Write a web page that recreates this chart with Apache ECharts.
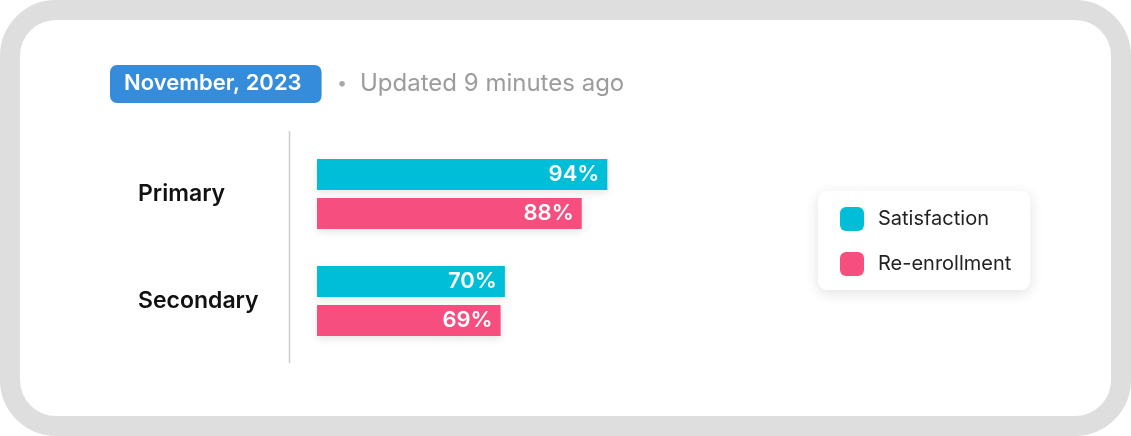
<!DOCTYPE html>
<html>
<head>
<meta charset="utf-8">
<script src="https://cdn.jsdelivr.net/npm/echarts@6/dist/echarts.min.js"></script>
<style>
  html, body { margin: 0; padding: 0; background: #ffffff; }
  #frame {
    position: absolute; left: 0; top: 0; width: 1131px; height: 436px;
    box-sizing: border-box; border: 20px solid #dedede; border-radius: 56px;
    background: #ffffff;
  }
  #chart { position: absolute; left: 0; top: 0; width: 1131px; height: 436px; }
</style>
</head>
<body>
<div id="frame"></div>
<div id="chart"></div>
<script>
const categories = ['Primary', 'Secondary'];
const seriesNames = ['Satisfaction', 'Re-enrollment'];
const satisfaction = [94, 70];
const reenrollment = [88, 69];
const headerDate = 'November, 2023';
const headerUpdated = 'Updated 9 minutes ago';

const FONT = 'Inter, "Noto Sans", sans-serif';
const colors = ['#00BED8', '#F64F7F'];

const chart = echarts.init(document.getElementById('chart'), null, { renderer: 'canvas' });

const barLabel = {
  show: true,
  position: 'insideRight',
  distance: 8,
  formatter: '{c}%',
  color: '#ffffff',
  fontFamily: FONT,
  fontWeight: 600,
  fontSize: 22
};

chart.setOption({
  animation: false,
  textStyle: { fontFamily: FONT },
  title: [
    {
      text: headerDate,
      left: 110, top: 65,
      backgroundColor: '#358CDB',
      borderRadius: 7,
      padding: [6, 20, 7, 14],
      textStyle: { color: '#ffffff', fontFamily: FONT, fontWeight: 600, fontSize: 22, lineHeight: 25 }
    },
    {
      text: '•',
      left: 337, top: 70,
      padding: 0,
      textStyle: { color: '#a8a8a8', fontFamily: FONT, fontWeight: 400, fontSize: 18, lineHeight: 28 }
    },
    {
      text: headerUpdated,
      left: 360, top: 70,
      padding: 0,
      textStyle: { color: '#9c9c9c', fontFamily: FONT, fontWeight: 400, fontSize: 24, lineHeight: 28 }
    }
  ],
  legend: {
    orient: 'vertical',
    left: 818, top: 191,
    padding: [16, 19, 14, 22],
    itemWidth: 24, itemHeight: 24, itemGap: 21,
    icon: 'roundRect',
    backgroundColor: '#ffffff',
    borderRadius: 9,
    shadowBlur: 14,
    shadowColor: 'rgba(0,0,0,0.12)',
    shadowOffsetY: 3,
    textStyle: { color: '#222222', fontFamily: FONT, fontSize: 20, padding: [0, 0, 0, 9] },
    data: seriesNames
  },
  grid: { left: 317, right: 498, top: 140.5, bottom: 81.5, containLabel: false },
  xAxis: {
    type: 'value', min: 26, max: 100,
    show: false
  },
  yAxis: {
    type: 'category',
    data: categories,
    inverse: true,
    axisLine: { show: false },
    axisTick: { show: false },
    axisLabel: {
      align: 'left',
      margin: 179,
      color: '#111111',
      fontFamily: FONT,
      fontWeight: 600,
      fontSize: 23,
      padding: [6, 0, 0, 0]
    }
  },
  graphic: [
    {
      type: 'line', silent: true,
      shape: { x1: 289.5, y1: 131, x2: 289.5, y2: 363 },
      style: { stroke: '#cccccc', lineWidth: 1.5 }
    }
  ],
  series: [
    {
      name: seriesNames[0], type: 'bar', data: satisfaction,
      barWidth: 31, barGap: '26%',
      itemStyle: { color: colors[0], shadowBlur: 8, shadowColor: 'rgba(0,0,0,0.10)', shadowOffsetY: 3 },
      label: barLabel
    },
    {
      name: seriesNames[1], type: 'bar', data: reenrollment,
      barWidth: 31, barGap: '26%',
      itemStyle: { color: colors[1], shadowBlur: 8, shadowColor: 'rgba(0,0,0,0.10)', shadowOffsetY: 3 },
      label: barLabel
    }
  ]
});
</script>
</body>
</html>
